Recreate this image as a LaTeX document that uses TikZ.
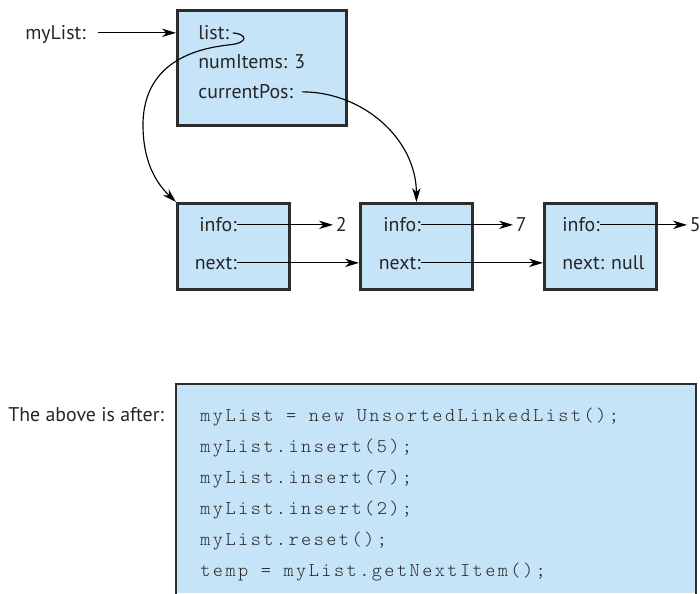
\documentclass[tikz,border=0pt]{standalone}
\usepackage{fontspec}
\setmainfont{PT Sans}
\newfontfamily\codefont[LetterSpace=12.7]{lmmonolt10-regular.otf}
\usetikzlibrary{positioning, arrows.meta, calc}

\definecolor{cellblue}{RGB}{198,228,247}
\definecolor{edge}{RGB}{45,45,45}

\begin{document}
\begin{tikzpicture}[x=0.02cm, y=-0.02cm, font=\fontsize{11.3}{13}\selectfont, text=black!85]
	\tikzset{
		ptr/.style={line width=0.65pt, -{Stealth[length=8pt, width=4.8pt, inset=2.5pt]}},
		cell/.style={draw=edge, fill=cellblue, line width=1.6pt, anchor=north west, inner sep=0pt},
		lbl/.style={inner sep=0pt, text height=7pt, text depth=0pt},
		codeline/.style={inner sep=0pt, anchor=base west, text=black!85,
			font=\fontsize{11}{12}\codefont}
	}
	\useasboundingbox (0,0) rectangle (700,593);
	
	% the list object
	\node[cell, minimum width=3.38cm, minimum height=2.3cm] (head) at (176,9) {};
	\node[lbl, anchor=base west] (hl) at (198,39) {list:};
	\node[lbl, anchor=base west] (hn) at (198,68.5) {numItems: 3};
	\node[lbl, anchor=base west] (hc) at (198,98) {currentPos:};
	
	\node[lbl, anchor=base west] (ml) at (25,39) {myList:};
	\draw[ptr] ([xshift=7pt]ml.east) -- (ml.east -| head.west);
	
	% the three list nodes
	\foreach \i/\x/\vx/\v in {1/176/333/2, 2/359/513/7, 3/543/687/5} {
		\node[cell, minimum width=2.24cm, minimum height=1.72cm] (n\i) at (\x,202) {};
		\node[inner sep=1.5pt, anchor=base west] (v\i) at (\vx,231) {\v};
	}
	\node[lbl, anchor=base east] (i1) at (237,231) {info:};
	\node[lbl, anchor=base east] (x1) at (237,269) {next:};
	\node[lbl, anchor=base east] (i2) at (421,231) {info:};
	\node[lbl, anchor=base east] (x2) at (421,269) {next:};
	\node[lbl, anchor=base west] (i3) at (562,231) {info:};
	\node[lbl, anchor=base west] (x3) at (562,269) {next: null};
	
	\foreach \i in {1,2,3} {
		\draw[ptr] (i\i.east) -- (i\i.east -| v\i.west);
	}
	\draw[ptr] (x1.east) -- (x1.east -| n2.west);
	\draw[ptr] (x2.east) -- (x2.east -| n3.west);
	
	% list: and currentPos: references
	\draw[ptr] ([xshift=2pt]hl.east) .. controls +(14,1) and (250,43) .. (228,45)
		.. controls (165,52) and (143,85) .. (143,125)
		.. controls (143,160) and (155,182) .. (n1.north west);
	\draw[ptr] ([xshift=5pt]hc.east) to[out=0, in=90] (n2.north);
	
	% the code
	\fill[cellblue] (176,384) rectangle (696,593);
	\draw[edge, line width=1.6pt] (176,600) -- (176,384) -- (696,384) -- (696,600);
	\node[lbl, anchor=base west] (after) at (8,421) {The above is after:};
	\foreach \t [count=\k] in {{myList = new UnsortedLinkedList();}, {myList.insert(5);},
		{myList.insert(7);}, {myList.insert(2);}, {myList.reset();}, {temp = myList.getNextItem();}} {
		\node[codeline] (c\k) at (200,{421+31*(\k-1)}) {\t};
	}
\end{tikzpicture}
\end{document}
